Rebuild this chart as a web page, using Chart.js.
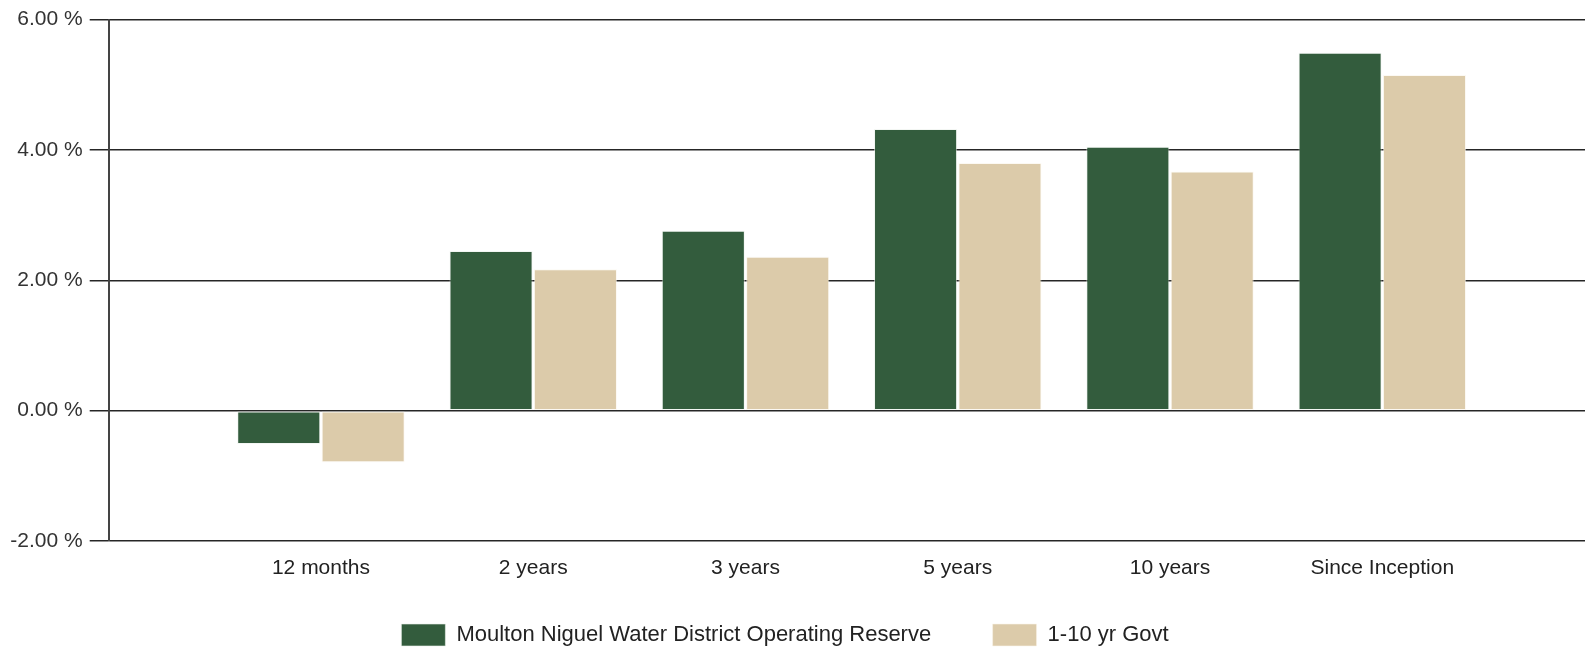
<!DOCTYPE html>
<html>
<head>
<meta charset="utf-8">
<script src="https://cdn.jsdelivr.net/npm/chart.js@4.4.1/dist/chart.umd.min.js"></script>
<style>
html,body{margin:0;padding:0;background:#fff;overflow:hidden;}
#wrap{width:1585px;height:647px;}
</style>
</head>
<body>
<div id="wrap"><canvas id="c" width="1585" height="647"></canvas></div>
<script>
const categories = ['12 months', '2 years', '3 years', '5 years', '10 years', 'Since Inception'];
const reserveValues = [-0.51, 2.45, 2.76, 4.32, 4.05, 5.49];
const govtValues = [-0.79, 2.17, 2.36, 3.80, 3.67, 5.15];
const seriesNames = ['Moulton Niguel Water District Operating Reserve', '1-10 yr Govt'];
const yTickValues = [-2, 0, 2, 4, 6];

const toPoints = arr => arr.map((v, i) => ({x: i + 1, y: v}));
const FONT = "'Liberation Sans', Arial, sans-serif";

const legendPlacer = {
  id: 'legendPlacer',
  afterLayout(chart) {
    const lg = chart.legend;
    if (!lg) return;
    const h = lg.bottom - lg.top;
    lg.top = 562.6;
    lg.bottom = lg.top + h;
  }
};

new Chart(document.getElementById('c'), {
  type: 'bar',
  data: {
    datasets: [
      {label: seriesNames[0], data: toPoints(reserveValues), backgroundColor: '#335C3D',
       borderColor: 'rgba(235,240,235,0.6)', borderWidth: 1, borderSkipped: false,
       categoryPercentage: 0.795, barPercentage: 0.985},
      {label: seriesNames[1], data: toPoints(govtValues), backgroundColor: '#DCCBAA',
       borderColor: 'rgba(250,245,235,0.6)', borderWidth: 1, borderSkipped: false,
       categoryPercentage: 0.795, barPercentage: 0.985}
    ]
  },
  plugins: [legendPlacer],
  options: {
    responsive: false,
    animation: false,
    layout: {padding: {left: -15, right: 0, top: 18, bottom: -27.4}},
    plugins: {
      tooltip: {enabled: false},
      legend: {
        position: 'bottom',
        align: 'center',
        labels: {
          boxWidth: 44, boxHeight: 22, padding: 61.4,
          color: '#222',
          font: {family: FONT, size: 22}
        }
      }
    },
    scales: {
      x: {
        type: 'linear',
        offset: false,
        min: 0,
        max: 6.955,
        grid: {display: false, drawTicks: false, offset: false},
        border: {display: false},
        ticks: {
          stepSize: 1, includeBounds: false, autoSkip: false, maxRotation: 0,
          padding: 15, color: '#222', font: {family: FONT, size: 21},
          callback: v => categories[v - 1] || ''
        },
        afterFit: s => { s.height = 40; }
      },
      y: {
        min: -2,
        max: 6,
        afterBuildTicks: s => { s.ticks = yTickValues.map(v => ({value: v})); },
        grid: {color: '#262626', lineWidth: 1.5, tickLength: 19, drawTicks: true},
        border: {display: true, color: '#444', width: 2},
        ticks: {
          padding: 7, color: '#333', font: {family: FONT, size: 21},
          callback: v => v.toFixed(2) + ' %'
        },
        afterFit: s => { s.width = 123.7; }
      }
    }
  }
});
</script>
</body>
</html>
